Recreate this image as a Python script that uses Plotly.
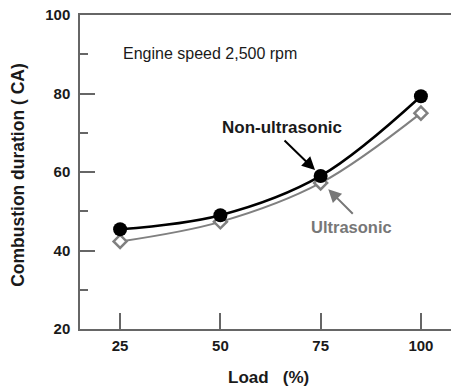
import plotly.graph_objects as go

load = [25, 50, 75, 100]
non_ultrasonic = [45.4, 49.0, 59.0, 79.3]
ultrasonic = [42.3, 47.3, 57.2, 75.0]
x_ticks = [25, 50, 75, 100]
y_ticks = [20, 40, 60, 80, 100]

FONT = "Liberation Sans"
AX = "#666666"

fig = go.Figure()
fig.add_trace(go.Scatter(
    x=load, y=ultrasonic, mode="lines+markers", name="Ultrasonic",
    line=dict(color="#808080", width=2, shape="spline", smoothing=1.0),
    marker=dict(symbol="diamond", size=10, color="white",
                line=dict(color="#808080", width=2.5)),
))
fig.add_trace(go.Scatter(
    x=load, y=non_ultrasonic, mode="lines+markers", name="Non-ultrasonic",
    line=dict(color="black", width=2.5, shape="spline", smoothing=1.0),
    marker=dict(symbol="circle", size=14, color="black"),
))

fig.update_layout(
    width=451, height=387,
    margin=dict(l=80, r=0, t=15, b=58),
    paper_bgcolor="white", plot_bgcolor="white",
    showlegend=False,
    font=dict(family=FONT, color="#1a1a1a"),
)
fig.update_xaxes(
    range=[15, 107.5], tickvals=x_ticks, ticktext=[str(v) for v in x_ticks],
    ticks="inside", ticklen=16, tickwidth=1.5, tickcolor=AX,
    showline=True, linecolor=AX, linewidth=1.5, mirror=True,
    showgrid=False, zeroline=False, ticklabelstandoff=2,
    tickfont=dict(family=FONT, size=15, weight="bold", color="#1a1a1a"),
)
fig.update_yaxes(
    range=[20, 100], tickvals=y_ticks, ticktext=[str(v) for v in y_ticks],
    ticks="inside", ticklen=15, tickwidth=1.5, tickcolor=AX,
    minor=dict(tickvals=[30, 50, 70, 90], ticks="inside", ticklen=8,
               tickwidth=1.5, tickcolor=AX, showgrid=False),
    showline=True, linecolor=AX, linewidth=1.5, mirror=False,
    showgrid=False, zeroline=False, ticklabelstandoff=5,
    tickfont=dict(family=FONT, size=15, weight="bold", color="#1a1a1a"),
)

fig.add_annotation(text="Combustion duration ( CA)", xref="paper", yref="paper",
                   x=-0.168, y=0.49, xanchor="center", yanchor="middle",
                   textangle=-90, showarrow=False,
                   font=dict(family=FONT, size=17.5, weight="bold", color="#1a1a1a"))
fig.add_annotation(text="Load   (%)", xref="paper", yref="paper",
                   x=0.507, y=-0.153, xanchor="center", yanchor="middle",
                   showarrow=False,
                   font=dict(family=FONT, size=17, weight="bold", color="#1a1a1a"))
fig.add_annotation(text="Engine speed 2,500 rpm", x=47.3, y=90.3, showarrow=False,
                   font=dict(family=FONT, size=16, color="#1a1a1a"))
fig.add_annotation(text="Non-ultrasonic", x=65.4, y=71.3, showarrow=False,
                   font=dict(family=FONT, size=17, weight="bold", color="#1a1a1a"))
fig.add_annotation(text="Ultrasonic", x=82.7, y=46.0, showarrow=False,
                   font=dict(family=FONT, size=16.5, weight="bold", color="#777777"))
fig.add_annotation(text="", x=73.6, y=60.5, ax=-32, ay=-31, showarrow=True,
                   arrowhead=2, arrowsize=1.3, arrowwidth=2, arrowcolor="black")
fig.add_annotation(text="", x=76.9, y=55.6, ax=26, ay=26, showarrow=True,
                   arrowhead=2, arrowsize=1.3, arrowwidth=2, arrowcolor="#777777")

fig.write_html("out.html", config={"displayModeBar": False},
               post_script="document.body.style.margin='0';")
